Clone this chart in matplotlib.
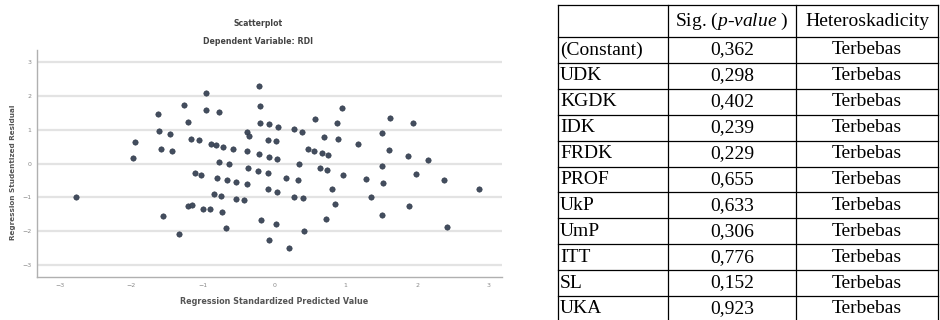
import matplotlib
matplotlib.use("Agg")
import matplotlib.pyplot as plt

# ---- scatter data (standardized predicted value, studentized residual) ----
pred = [-0.95, -1.26, -0.95, -1.62, -1.20, -1.61, -1.46, -1.16, -1.05, -1.95,
        -1.58, -1.43, -1.97, -0.21, -0.20, -0.77, 0.95, 0.57, -0.20, -0.07,
        0.06, 0.28, 0.39, 0.88, -0.38, -0.35, 0.70, 0.90, -0.08, 0.03,
        -0.88, -0.81, -0.71, -0.57, -0.38, -0.21, -0.07, 0.04, 0.48, 0.56,
        0.67, 0.76, 1.18, -0.77, -0.63, 0.35, -0.36, -0.22, -0.08, 0.64,
        0.74, 0.97, -0.80, -0.66, -0.53, -0.38, 0.17, 0.34, 1.62, 1.95,
        1.51, 1.61, 1.88, 2.16, 1.51, 1.99, 1.29, 2.38, -1.11, -1.02,
        -2.77, -1.20, -1.15, -0.99, -0.90, -1.55, -1.33, 0.81, -0.84, -0.74,
        -0.53, -0.42, -0.08, 0.04, 0.28, 0.41, 0.85, -0.73, -0.18, 0.03,
        0.73, -0.67, 0.42, -0.07, 0.21, 1.53, 2.87, 1.36, 1.89, 1.51, 2.42]
resid = [2.07, 1.72, 1.57, 1.46, 1.22, 0.96, 0.87, 0.72, 0.69, 0.63,
         0.43, 0.37, 0.16, 2.28, 1.69, 1.51, 1.63, 1.31, 1.19, 1.16,
         1.07, 1.01, 0.93, 1.19, 0.93, 0.81, 0.78, 0.72, 0.69, 0.66,
         0.57, 0.54, 0.49, 0.43, 0.37, 0.28, 0.19, 0.13, 0.43, 0.37,
         0.31, 0.25, 0.57, 0.04, -0.01, -0.01, -0.13, -0.22, -0.28, -0.13,
         -0.19, -0.34, -0.43, -0.49, -0.54, -0.60, -0.43, -0.49, 1.34, 1.19,
         0.90, 0.40, 0.22, 0.10, -0.07, -0.31, -0.46, -0.49, -0.28, -0.34,
         -0.99, -1.25, -1.22, -1.34, -1.34, -1.54, -2.07, -0.75, -0.90, -0.96,
         -1.04, -1.07, -0.75, -0.84, -0.99, -1.01, -1.19, -1.43, -1.66, -1.78,
         -1.63, -1.90, -1.99, -2.25, -2.49, -0.57, -0.75, -0.99, -1.25, -1.51, -1.87]
x_ticks = [-3, -2, -1, 0, 1, 2, 3]
y_ticks = [-3, -2, -1, 0, 1, 2, 3]

# ---- table data ----
col_headers = ["", "Sig. ($p$-$value$ )", "Heteroskadicity"]
variables = ["(Constant)", "UDK", "KGDK", "IDK", "FRDK", "PROF", "UkP", "UmP", "ITT", "SL", "UKA"]
p_values = ["0,362", "0,298", "0,402", "0,239", "0,229", "0,655", "0,633", "0,306", "0,776", "0,152", "0,923"]
conclusion = ["Terbebas"] * len(variables)

plt.rcParams["mathtext.fontset"] = "custom"
plt.rcParams["mathtext.rm"] = "Liberation Serif"
plt.rcParams["mathtext.it"] = "Liberation Serif:italic"

W, H = 940, 320
fig = plt.figure(figsize=(W / 100, H / 100), dpi=100)

# ---- scatter axes ----
L, R, T, B = 37, 502, 50, 277
ax = fig.add_axes([L / W, 1 - B / H, (R - L) / W, (B - T) / H])
ax.scatter(pred, resid, s=15, color="#434d5e", edgecolors="#2c3646", linewidths=0.4, zorder=3)
ax.set_xlim(-3.32, 3.19)
ax.set_ylim(-3.34, 3.34)
ax.set_xticks(x_ticks)
ax.set_yticks(y_ticks)
ax.tick_params(axis="both", length=0, labelsize=4.5, labelcolor="#8a8a8a", pad=4)
ax.yaxis.grid(True, color="#e3e3e3", lw=1.6)
ax.set_axisbelow(True)
for s in ["top", "right"]:
    ax.spines[s].set_visible(False)
for s in ["left", "bottom"]:
    ax.spines[s].set_color("#b0b0b0")
    ax.spines[s].set_linewidth(1.0)

fig.text(258 / W, 1 - 23 / H, "Scatterplot", ha="center", va="center",
         fontsize=5.6, fontweight="bold", color="#444444")
fig.text(258 / W, 1 - 42 / H, "Dependent Variable: RDI", ha="center", va="center",
         fontsize=5.7, fontweight="bold", color="#444444")
fig.text(274 / W, 1 - 302 / H, "Regression Standardized Predicted Value", ha="center", va="center",
         fontsize=5.8, fontweight="bold", color="#555555")
fig.text(13 / W, 1 - 172 / H, "Regression Studentized Residual", ha="center", va="center",
         rotation=90, fontsize=5.2, fontweight="bold", color="#555555")

# ---- table (drawn on a pixel-coordinate overlay) ----
tx = fig.add_axes([0, 0, 1, 1])
tx.set_xlim(0, W)
tx.set_ylim(H, 0)
tx.axis("off")

col_edges = [558, 668, 796, 938]
header_top, header_bot, row_h = 5, 37, 25.9
n = len(variables)
row_edges = [header_top, header_bot] + [header_bot + row_h * (i + 1) for i in range(n)]
lw = 0.9
for y in row_edges:
    tx.plot([col_edges[0], col_edges[-1]], [y, y], color="black", lw=lw, clip_on=False)
for x in col_edges:
    tx.plot([x, x], [row_edges[0], row_edges[-1]], color="black", lw=lw, clip_on=False)

fs = 14
serif = "Liberation Serif"
hy = (header_top + header_bot) / 2
for j, h in enumerate(col_headers):
    if h:
        tx.text((col_edges[j] + col_edges[j + 1]) / 2, hy, h, ha="center", va="center",
                fontsize=fs, family=serif)
for i in range(n):
    yc = header_bot + row_h * (i + 0.5)
    tx.text(col_edges[0] + 2, yc, variables[i], ha="left", va="center", fontsize=fs, family=serif)
    tx.text((col_edges[1] + col_edges[2]) / 2, yc, p_values[i], ha="center", va="center",
            fontsize=fs, family=serif)
    tx.text((col_edges[2] + col_edges[3]) / 2, yc, conclusion[i], ha="center", va="center",
            fontsize=fs, family=serif)

fig.savefig("out.png", dpi=100)
